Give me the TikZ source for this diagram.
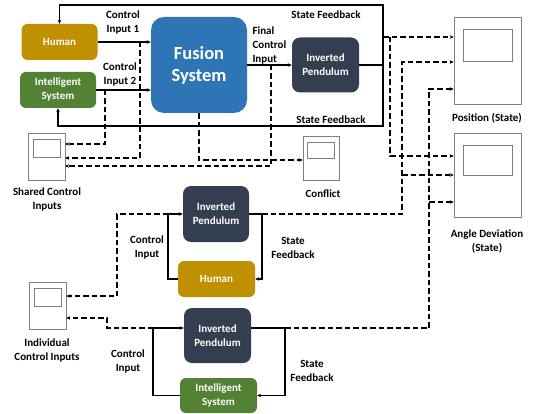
\documentclass[tikz,border=0pt]{standalone}
\usepackage{fontspec}
\setmainfont{Carlito}
\usetikzlibrary{arrows.meta,calc,shadows}
\definecolor{cgold}{HTML}{BF9000}
\definecolor{cgreen}{HTML}{548235}
\definecolor{cblue}{HTML}{2E75B6}
\definecolor{cnavy}{HTML}{333F50}
\definecolor{cscope}{HTML}{7F7F7F}
\begin{document}
\begin{tikzpicture}[x=1pt,y=-1pt,
  every node/.style={font=\fontsize{11}{14}\selectfont\bfseries},
  blk/.style={rounded corners=6pt, text=white, align=center, inner sep=1pt},
  humanbox/.style={blk, fill=cgold, minimum width=76pt, minimum height=36pt},
  intelbox/.style={blk, fill=cgreen, minimum width=76pt, minimum height=36pt},
  pendbox/.style={blk, fill=cnavy, minimum width=67pt, minimum height=55pt, rounded corners=8pt},
  scopebox/.style={draw=cscope, fill=white, line width=0.6pt, inner sep=0pt,
    drop shadow={shadow xshift=1.2pt, shadow yshift=-1.2pt, opacity=0.3, fill=black}},
  lbl/.style={align=center, text=black},
  conn/.style={line width=1.2pt, -{Stealth[length=4pt,width=3.5pt]}},
  plain/.style={line width=1.2pt},
  dsh/.style={line width=1.2pt, dash pattern=on 5.5pt off 3pt},
  dsha/.style={dsh, -{Stealth[length=4pt,width=3.5pt]}}
]
\useasboundingbox (0,0) rectangle (537,414);

% ---------- top: shared control ----------
\node[humanbox] (human) at (59.5,42) {Human};
\node[intelbox] (intel) at (58,90) {Intelligent\\System};
\node[blk, fill=cblue, minimum width=96pt, minimum height=96pt, rounded corners=13pt,
      font=\fontsize{18.5}{22}\selectfont\bfseries] (fusion) at (199,65) {Fusion\\System};
\node[pendbox] (pend1) at (325.5,65) {Inverted\\Pendulum};

\node[scopebox, minimum width=67pt, minimum height=87pt] (pos) at (487.5,60.5) {};
\node[scopebox, minimum width=67pt, minimum height=84pt] (ang) at (487.5,175) {};
\node[scopebox, minimum width=37pt, minimum height=47pt] (shared) at (46.5,156.5) {};
\node[scopebox, minimum width=36pt, minimum height=44pt] (conf) at (321,158) {};
\node[scopebox, minimum width=37pt, minimum height=47pt] (indiv) at (47.5,305.5) {};
\foreach \s in {pos,ang,shared,conf,indiv}{
  \draw[cscope, line width=0.8pt] let \p1=(\s.north west), \p2=(\s.south east) in
    ({\x1+0.14*(\x2-\x1)}, {\y1+0.15*(\y2-\y1)}) rectangle ({\x1+0.87*(\x2-\x1)}, {\y1+0.51*(\y2-\y1)});
}

\node[lbl] (l1) at (123,23) {Control\\Input 1};
\node[lbl] (l2) at (120,75) {Control\\Input 2};
\node[lbl, align=left, anchor=west] (l3) at (249,46) {Final\\Control\\Input};
\node[lbl] (l4) at (326,15) {State Feedback};
\node[lbl] (l5) at (331,120) {State Feedback};
\node[lbl] (l6) at (487,118) {Position (State)};
\node[lbl] (l7) at (487,241) {Angle Deviation\\(State)};
\node[lbl] (l8) at (47,200) {Shared Control\\Inputs};
\node[lbl] (l9) at (323,194) {Conflict};

\draw[conn] (human.east) -- (human.east -| fusion.west);
\draw[conn] (intel.east) -- (intel.east -| fusion.west);
\draw[conn] (fusion.east |- pend1.west) -- (pend1.west);

\coordinate (fr) at (383,65);
\coordinate (tl) at (59.5,5);
\coordinate (bl) at (58,126);
\draw[line width=1.7pt] (pend1.east) -- (fr);
\draw[conn] (fr) |- (tl) -- (human.north);
\draw[conn] (fr) |- (bl) -- (intel.south);

% dashed taps to shared scope and conflict
\coordinate (t1) at (140,42);
\coordinate (t2) at (105,90);
\coordinate (t3) at (271,65);
\coordinate (s1) at (65,144);
\coordinate (s2) at (65,158);
\coordinate (s3) at (65,166);
\draw[dsha] (t1) |- (s2);
\draw[dsha] (t2) |- (s1);
\draw[dsha] (t3) |- (s3);
\draw[dsha] (fusion.south) |- ($(conf.west)+(0,2)$);

% ---------- middle: human alone ----------
\node[pendbox, minimum width=66pt, minimum height=56pt] (pend2) at (216,214) {Inverted\\Pendulum};
\node[humanbox, minimum width=77pt] (human2) at (216.5,279) {Human};
\node[lbl] (l10) at (147,248) {Control\\Input};
\node[lbl] (l11) at (293,248) {State\\Feedback};
\coordinate (m1) at (168,214);
\coordinate (m2) at (262,214);
\draw[conn] (human2.west) -| (m1) -- (pend2.west);
\draw[plain] (pend2.east) -- (m2);
\draw[conn] (m2) |- (human2.east);

% ---------- bottom: intelligent system alone ----------
\node[pendbox] (pend3) at (217.5,335.5) {Inverted\\Pendulum};
\node[intelbox, minimum width=77pt, minimum height=35pt] (intel3) at (218.5,395.5) {Intelligent\\System};
\node[lbl] (l12) at (128,362) {Control\\Input};
\node[lbl] (l13) at (312,371) {State\\Feedback};
\node[lbl] (l14) at (47,351) {Individual\\Control Inputs};
\coordinate (b1) at (153,328);
\coordinate (b2) at (285,328);
\draw[conn] (intel3.west) -| (b1) -- (b1 -| pend3.west);
\draw[plain] (b1 -| pend3.east) -- (b2);
\draw[conn] (b2) |- (intel3.east);

% dashed taps to individual scope
\coordinate (i1) at (117,214);
\coordinate (i2) at (107,318);
\draw[dsha] (m1) -- (i1) |- ($(indiv.east)+(0,-9.5)$);
\draw[dsha] (b1) -| (i2) -- (i2 -| indiv.east);

% ---------- dashed to state scopes ----------
\coordinate (p1) at (383,37);
\coordinate (q1) at (390,37);
\coordinate (v2) at (402,62);
\coordinate (v2b) at (402,175);
\coordinate (v3) at (429,89);
\coordinate (v3b) at (429,202);
\draw[dsha] (p1) -- (p1 -| pos.west);
\draw[dsha] (q1) |- ($(ang.west)+(0,-19)$);
\draw[dsha] (m2) -- (402,214) -- (v2) -- (v2 -| pos.west);
\draw[dsha] (v2b) -- (v2b -| ang.west);
\draw[dsha] (b2) -- (429,328) -- (v3) -- (v3 -| pos.west);
\draw[dsha] (v3b) -- (v3b -| ang.west);
\end{tikzpicture}
\end{document}
